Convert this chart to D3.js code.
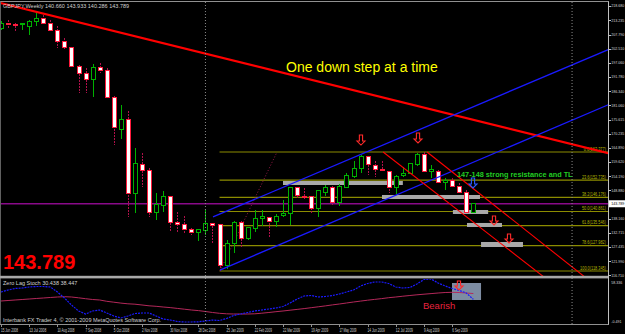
<!DOCTYPE html>
<html><head><meta charset="utf-8">
<script src="https://cdn.jsdelivr.net/npm/d3@7"></script>
<style>
html,body{margin:0;padding:0;background:#000;overflow:hidden;}
svg{display:block;}
text{font-family:Arial,"Liberation Sans",sans-serif;}
</style></head><body>
<svg id="c" width="625" height="334"></svg>
<script>
// ---------- DATA ----------
const chartTitle = "GBPJPY,Weekly  140.660 143.933 140.286 143.789";
const indicatorTitle = "Zero Lag Stoch 30.438 38.447";
const copyright = "Interbank FX Trader 4, \u00a9 2001-2009 MetaQuotes Software Corp.";
const weekLabels = ["15 Jun 2008","13 Jul 2008","10 Aug 2008","7 Sep 2008","5 Oct 2008","2 Nov 2008","30 Nov 2008","28 Dec 2008","25 Jan 2009","22 Feb 2009","22 Mar 2009","19 Apr 2009","17 May 2009","14 Jun 2009","12 Jul 2009","9 Aug 2009","6 Sep 2009"];
const weekLabelBars = [0,4,8,12,16,20,24,28,32,36,40,44,48,52,56,60,64];
const priceTicks = [218.680,213.235,207.790,202.510,197.060,191.780,186.340,181.060,175.615,170.235,164.890,159.620,154.190,148.880,138.160,132.715,127.435,121.990,116.710];
const lastPrice = 143.789;
const indTicks = [58.336, -0.491];

const opens  = [210.30,211.90,211.50,211.70,211.05,212.94,214.08,212.19,209.54,205.37,203.10,195.92,193.27,191.00,195.54,194.40,184.19,172.08,175.86,147.86,158.46,156.19,140.67,142.95,146.35,136.52,135.76,133.87,132.73,133.49,136.14,135.76,120.24,128.94,136.52,130.46,134.25,138.03,138.41,136.89,139.16,139.92,149.76,146.50,146.35,141.81,148.24,150.13,144.08,150.13,153.92,157.32,161.49,158.08,156.94,155.81,149.76,154.67,155.43,158.46,162.62,155.81,155.81,152.02,152.78,150.51,148.24,140.660];
const highs  = [212.94,213.32,212.19,212.19,213.32,215.97,215.21,213.32,211.05,206.51,203.30,196.30,195.16,196.67,197.05,195.16,184.50,181.16,178.89,164.89,163.00,157.32,147.86,148.62,146.73,140.67,139.16,134.62,134.25,141.43,136.50,136.14,130.08,137.27,137.27,135.00,141.43,141.43,138.78,139.92,145.22,150.00,150.13,149.76,146.73,148.90,150.89,150.40,151.27,155.43,159.97,162.24,161.80,159.97,159.97,156.10,154.67,157.70,159.22,162.90,163.377,158.46,156.57,153.54,153.54,151.64,149.00,143.933];
const lows   = [209.54,210.30,208.78,209.54,207.65,211.05,211.81,209.30,202.73,201.97,195.54,185.70,185.70,184.19,193.27,183.90,166.02,168.30,138.78,140.30,150.13,138.78,137.65,140.67,133.11,132.73,132.73,131.97,129.70,131.97,128.94,118.345,119.20,125.16,127.43,130.08,133.11,135.38,131.22,135.00,138.78,135.76,145.97,145.22,140.30,138.78,146.73,143.33,142.95,149.80,153.54,155.43,154.67,153.92,156.19,147.86,147.49,153.92,155.10,158.08,155.50,153.54,151.64,149.00,150.13,147.90,140.40,140.286];
const closes = [212.19,211.70,211.35,211.85,212.94,214.08,212.19,209.54,205.37,203.10,195.92,193.27,191.00,195.54,194.40,184.19,172.46,175.86,147.86,158.84,156.19,140.67,143.33,146.35,136.52,135.76,133.87,132.73,133.87,136.14,135.38,120.24,128.94,136.52,130.46,134.62,138.03,138.78,136.89,138.78,139.92,149.76,146.73,146.20,141.81,148.62,149.76,144.08,150.51,154.30,157.32,161.49,158.46,156.94,156.57,149.76,153.92,155.43,158.84,162.62,155.81,156.57,152.02,152.78,150.51,148.24,140.67,143.789];

const stochMain = [40.55,43.28,45.34,46.02,47.39,48.07,48.07,47.39,40.55,32.34,22.77,14.56,10.45,14.56,15.93,11.82,7.72,4.98,7.72,11.14,11.82,11.82,7.72,3.61,2.25,0.19,-0.49,-0.49,-0.20,0.88,2.25,1.56,4.30,8.40,10.45,12.51,14.56,15.93,17.29,18.66,20.71,25.50,30.97,35.08,35.76,33.71,34.39,35.76,37.81,40.55,43.28,48.76,52.18,54.23,54.23,52.18,47.39,46.02,46.71,51.49,57.65,58.336,52.86,48.76,45.34,42.60,39.18,30.438];
const stochSignal = [28.24,28.92,29.61,30.29,30.97,31.66,32.34,33.03,33.71,34.12,33.71,32.61,31.38,30.29,29.61,27.83,26.60,25.36,24.41,23.86,22.77,21.67,20.99,20.03,19.21,18.11,17.02,15.93,15.10,13.87,12.51,11.41,10.73,10.45,10.45,10.45,10.73,11.55,12.51,13.60,14.56,15.65,16.75,17.84,19.07,20.30,21.53,22.90,24.13,25.50,26.87,28.10,29.33,30.43,31.52,32.75,33.71,34.80,35.76,36.72,37.54,38.36,39.18,39.86,40.14,39.86,39.18,38.447];

// Fibonacci retracement
const fibLevels = [0.0, 23.6, 38.2, 50.0, 61.8, 78.6, 100.0];
const fibPrices = [163.377, 152.735, 146.176, 140.861, 135.546, 127.982, 118.345];
const fibStartBar = 31;

// trend lines: [bar, price] pairs
const downTrend   = [[0, 219.7], [86, 163.0]];
const channelUp   = [[30.07, 138.8], [86.1, 202.1]];
const channelLow  = [[31.06, 118.7], [86.1, 181.2]];
const fallA       = [[54.2, 163.38], [77.0, 116.1]];
const fallB       = [[60.43, 163.377], [82.8, 116.1]];
const fibDiagonal = [[31.06, 118.345], [39.15, 163.377]];

// zones: [barFrom, barTo, priceTop, priceBottom]
const zones = [[40.0,57.0,152.40,150.89],[54.04,67.94,147.11,145.59],[64.1,69.1,141.43,139.92],[66.1,71.06,136.52,135.00],[68.09,74.04,129.32,127.43]];
const indZone = [63.97, 68.09, 52.86, 29.6];
// arrows: [bar, priceTop, priceBottom, colour]
const arrows = [[51.06,169.81,166.0,"red"],[59.15,170.57,166.8,"red"],[66.95,153.54,149.76,"blue"],[69.93,139.16,135.76,"red"],[72.06,132.35,128.94,"red"]];
const indArrow = [64.96, 55.6, 43.3];
const separatorBars = [29, 81];

// ---------- DRAW ----------
const svg = d3.select("#c");
const W = 625, H = 334, RIGHT = 608;
const x = d3.scaleLinear().domain([0, 86]).range([1, 1 + 86 * 7.05]);
const y = d3.scaleLinear().domain([118.345, 163.377]).range([271, 152]);
const yi = d3.scaleLinear().domain([-0.491, 58.336]).range([322, 279]);

svg.append("rect").attr("width", W).attr("height", H).attr("fill", "#000");
const defs = svg.append("defs");
defs.append("clipPath").attr("id", "main").append("rect").attr("x", 0).attr("y", 2).attr("width", RIGHT).attr("height", 274);
defs.append("clipPath").attr("id", "ind").append("rect").attr("x", 0).attr("y", 279).attr("width", RIGHT).attr("height", 45);

const main = svg.append("g").attr("clip-path", "url(#main)");
const ind = svg.append("g").attr("clip-path", "url(#ind)");

// period separators
separatorBars.forEach(b => {
  svg.append("line").attr("x1", x(b)).attr("x2", x(b)).attr("y1", 2).attr("y2", 324)
    .attr("stroke", "#8a8a8a").attr("stroke-width", 1).attr("stroke-dasharray", "1,2");
});

// fib lines
fibPrices.forEach((p, i) => {
  main.append("line").attr("x1", x(fibStartBar)).attr("x2", RIGHT).attr("y1", y(p)).attr("y2", y(p))
    .attr("stroke", "#8c8c00").attr("stroke-width", 1.2);
  const lbl = fibLevels[i].toFixed(1) + "(" + p.toFixed(3) + ")";
  main.append("text").attr("x", 606).attr("y", y(p) - 1.5).attr("text-anchor", "end")
    .attr("font-size", 4.5).attr("fill", "#b4b400")
    .attr("textLength", lbl.length * 1.85).attr("lengthAdjust", "spacingAndGlyphs")
    .text(lbl);
});

// zones
zones.forEach(z => {
  main.append("rect").attr("x", x(z[0])).attr("width", x(z[1]) - x(z[0]))
    .attr("y", y(z[2])).attr("height", y(z[3]) - y(z[2])).attr("fill", "#a9a9a9");
});

// current price line
main.append("line").attr("x1", 0).attr("x2", RIGHT).attr("y1", y(lastPrice)).attr("y2", y(lastPrice))
  .attr("stroke", "#8a0a8a").attr("stroke-width", 1.6);

// fib diagonal
main.append("line").attr("x1", x(fibDiagonal[0][0])).attr("y1", y(fibDiagonal[0][1]))
  .attr("x2", x(fibDiagonal[1][0])).attr("y2", y(fibDiagonal[1][1]))
  .attr("stroke", "#9a1a4a").attr("stroke-width", 1).attr("stroke-dasharray", "1,2");

// candles
const cg = main.append("g").attr("shape-rendering", "crispEdges");
opens.forEach((o, i) => {
  const c = closes[i], bull = c > o;
  const cx = Math.round(x(i)) + 0.5;
  cg.append("line").attr("x1", cx).attr("x2", cx).attr("y1", y(highs[i])).attr("y2", y(lows[i]))
    .attr("stroke", bull ? "#00b000" : "#b0104a")
    .attr("stroke-dasharray", bull ? null : "2,1");
  const top = y(Math.max(o, c)), bot = y(Math.min(o, c));
  cg.append("rect").attr("x", cx - 2).attr("width", 4)
    .attr("y", top).attr("height", Math.max(1, bot - top))
    .attr("fill", bull ? "#000" : "#fff")
    .attr("stroke", bull ? "#00b000" : "#ff1a3c").attr("stroke-width", 1);
});

// trend lines
function ray(pts, b0, b1) {
  const [[xa, pa], [xb, pb]] = pts;
  const s = (pb - pa) / (xb - xa);
  return [[x(b0), y(pa + s * (b0 - xa))], [x(b1), y(pa + s * (b1 - xa))]];
}
function drawSeg(seg, color, w) {
  main.append("line").attr("x1", seg[0][0]).attr("y1", seg[0][1]).attr("x2", seg[1][0]).attr("y2", seg[1][1])
    .attr("stroke", color).attr("stroke-width", w);
}
drawSeg(ray(downTrend, -2, 90), "#ff0000", 2.2);
drawSeg(ray(channelUp, channelUp[0][0], 90), "#1a1aff", 1.3);
drawSeg(ray(channelLow, channelLow[0][0], 90), "#1a1aff", 1.3);
drawSeg(ray(fallA, fallA[0][0], 90), "#ff0000", 1.1);
drawSeg(ray(fallB, fallB[0][0], 90), "#ff0000", 1.1);

// arrows
function arrow(g, cx, top, bot, color) {
  const hh = 4, sw = 1.6, hw = 4;
  const p = `M${cx - sw},${top} L${cx + sw},${top} L${cx + sw},${bot - hh} L${cx + hw},${bot - hh} L${cx},${bot} L${cx - hw},${bot - hh} L${cx - sw},${bot - hh} Z`;
  g.append("path").attr("d", p).attr("fill", "none").attr("stroke", color).attr("stroke-width", 1.1);
}
arrows.forEach(a => arrow(main, x(a[0]), y(a[1]), y(a[2]), a[3] === "red" ? "#ff2a2a" : "#2a5aff"));

// texts main
svg.append("text").attr("x", 286).attr("y", 72).attr("font-size", 14).attr("fill", "#ffff00")
  .text("One down step at a time");
svg.append("text").attr("x", 457).attr("y", 177).attr("font-size", 7.3).attr("font-weight", "bold")
  .attr("fill", "#22cc22")
  .text("147-148 strong resistance and TL");
svg.append("text").attr("x", 3).attr("y", 269).attr("font-size", 20).attr("font-weight", "bold")
  .attr("fill", "#ff0000").text("143.789");
svg.append("text").attr("x", 3).attr("y", 7.5).attr("font-size", 5.5).attr("fill", "#d0d0d0").text(chartTitle);

// indicator panel
ind.append("rect").attr("x", x(indZone[0])).attr("width", x(indZone[1]) - x(indZone[0]))
  .attr("y", yi(indZone[2])).attr("height", yi(indZone[3]) - yi(indZone[2])).attr("fill", "#7d8ca2");
const lineI = d3.line().x((d, i) => x(i)).y(d => yi(d));
ind.append("path").datum(stochSignal).attr("d", lineI).attr("fill", "none").attr("stroke", "#b4285a").attr("stroke-width", 1);
ind.append("path").datum(stochMain).attr("d", lineI).attr("fill", "none").attr("stroke", "#1a1aff")
  .attr("stroke-width", 1.2).attr("stroke-dasharray", "2,1");
arrow(ind, x(indArrow[0]), yi(indArrow[1]), yi(indArrow[2]), "#ff2a2a");
svg.append("text").attr("x", 423).attr("y", 309).attr("font-size", 9.5).attr("fill", "#e8233f").text("Bearish");
svg.append("text").attr("x", 3).attr("y", 284.5).attr("font-size", 5.5).attr("fill", "#d0d0d0").text(indicatorTitle);
svg.append("text").attr("x", 3).attr("y", 322).attr("font-size", 5.5).attr("fill", "#d0d0d0").text(copyright);

// frame
svg.append("line").attr("x1", 0).attr("x2", RIGHT + 1).attr("y1", 1.5).attr("y2", 1.5).attr("stroke", "#909090");
svg.append("line").attr("x1", 0.5).attr("x2", 0.5).attr("y1", 1.5).attr("y2", 324).attr("stroke", "#606060");
svg.append("rect").attr("x", 0).attr("y", 275.8).attr("width", RIGHT + 1).attr("height", 2.6).attr("fill", "#a8a8a8");
svg.append("line").attr("x1", 0).attr("x2", RIGHT + 1).attr("y1", 324.5).attr("y2", 324.5).attr("stroke", "#909090");
svg.append("line").attr("x1", RIGHT + 0.5).attr("x2", RIGHT + 0.5).attr("y1", 1.5).attr("y2", 324.5).attr("stroke", "#c0c0c0");

// right axis (small enough to fit inside the 625px window)
const axX = RIGHT + 3.2, axFont = 3.6;
priceTicks.forEach(v => {
  svg.append("line").attr("x1", RIGHT + 1).attr("x2", RIGHT + 3).attr("y1", Math.round(y(v)) + 0.5).attr("y2", Math.round(y(v)) + 0.5).attr("stroke", "#c0c0c0");
  svg.append("text").attr("x", axX).attr("y", y(v) + 1.4).attr("font-size", axFont)
    .attr("fill", "#d8d8d8").text(v.toFixed(3));
});
svg.append("rect").attr("x", RIGHT + 1).attr("y", y(lastPrice) - 3.5).attr("width", 16).attr("height", 7).attr("fill", "#ffffff");
svg.append("text").attr("x", axX).attr("y", y(lastPrice) + 1.4).attr("font-size", axFont)
  .attr("fill", "#000").text(lastPrice.toFixed(3));
indTicks.forEach((v, i) => {
  svg.append("text").attr("x", axX).attr("y", yi(v) + (i === 0 ? 4.5 : 1)).attr("font-size", axFont)
    .attr("fill", "#d8d8d8").text(v.toFixed(3));
});

// time axis
weekLabels.forEach((t, i) => {
  const bx = x(weekLabelBars[i]);
  svg.append("line").attr("x1", Math.round(bx) + 0.5).attr("x2", Math.round(bx) + 0.5).attr("y1", 324.5).attr("y2", 327).attr("stroke", "#909090");
  svg.append("text").attr("x", bx).attr("y", 331.5).attr("font-size", 5)
    .attr("textLength", t.length * 1.55).attr("lengthAdjust", "spacingAndGlyphs")
    .attr("fill", "#d0d0d0").text(t);
});
</script>
</body></html>
